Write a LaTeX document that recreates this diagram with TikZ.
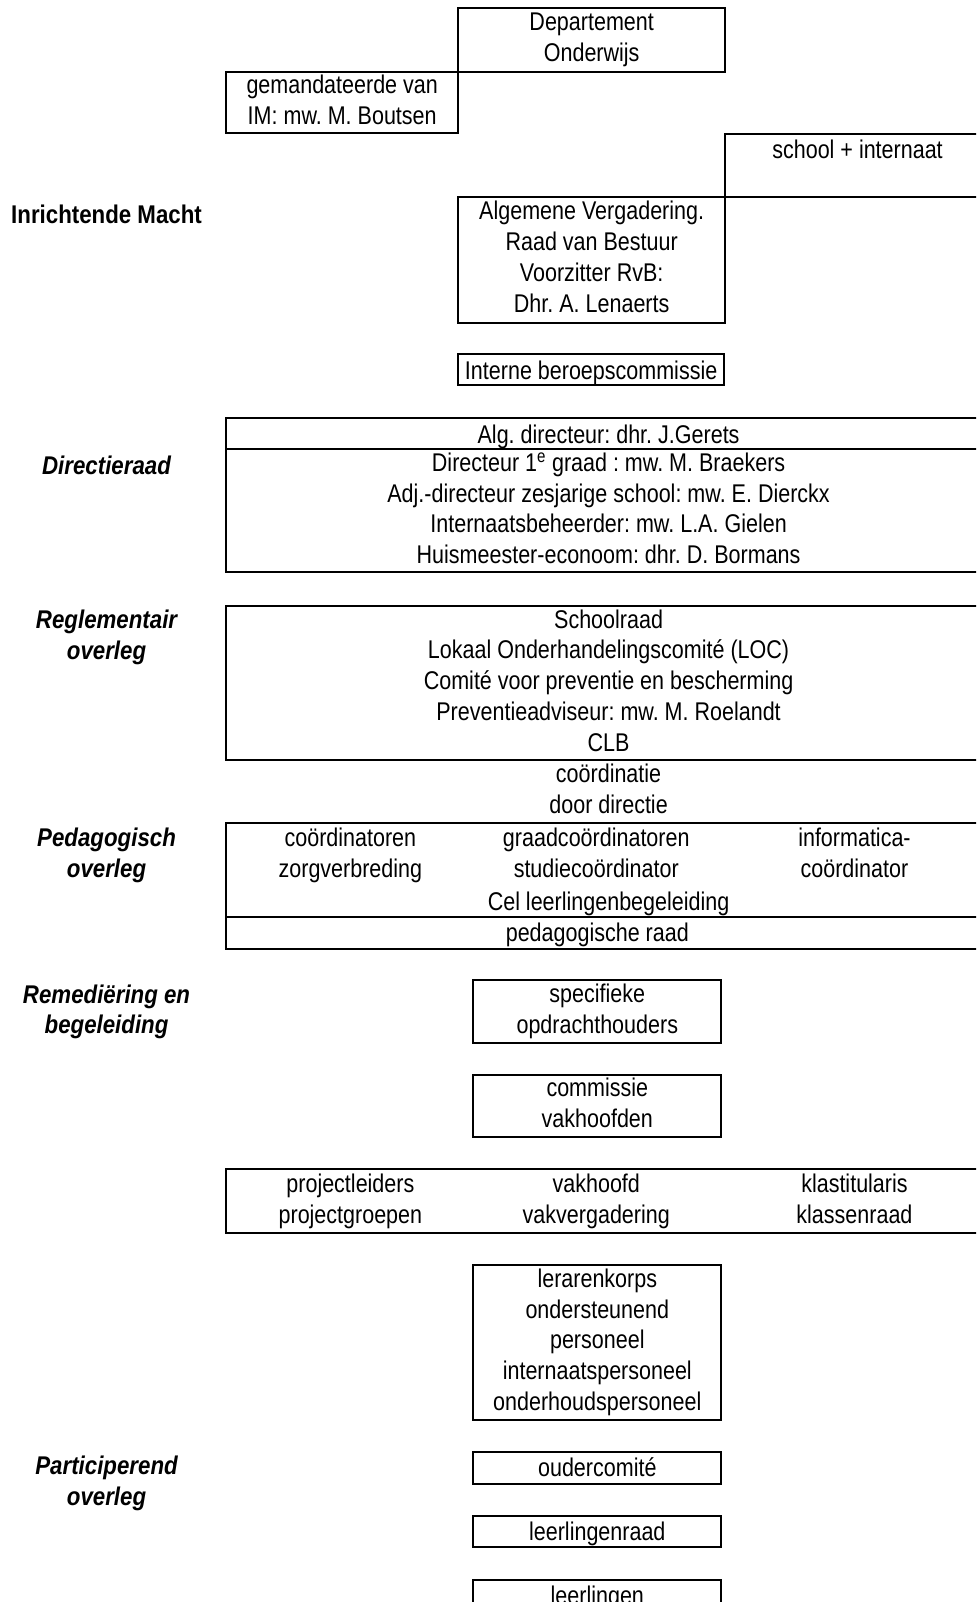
\documentclass[tikz,border=0pt]{standalone}
\usepackage{fontspec}
\setmainfont{Liberation Sans}[UprightFeatures={FakeStretch=0.84}, ItalicFeatures={FakeStretch=0.84},
  BoldFeatures={FakeStretch=0.87}, BoldItalicFeatures={FakeStretch=0.87}]
\frenchspacing
\newcommand{\lineslot}{\rule[-6pt]{0pt}{30pt}}
\begin{document}
\begin{tikzpicture}[x=1pt, y=-1pt, scale=1.0245, line width=2pt,
  every node/.style={font=\fontsize{25}{30}\selectfont, align=center, inner sep=0pt, transform shape,
    execute at begin node=\lineslot, execute at end node=\lineslot},
  box/.style={draw, line width=2pt},
  head/.style={font=\fontsize{25}{30}\selectfont\bfseries},
  level/.style={font=\fontsize{25}{30}\selectfont\bfseries\itshape}]
   \useasboundingbox (0,0) rectangle (952.66,1563.65);
   \clip (0,0) rectangle (952.66,1563.65);

   % Inrichtende Macht
   \node[head] (im) at (104,209) {Inrichtende Macht};
   \node[box, minimum width=261pt, minimum height=62pt] (dept) at (577.5,39) {Departement\\Onderwijs};
   \node[box, minimum width=226pt, minimum height=60pt] (mandaat) at (334,100) {gemandateerde van\\IM: mw. M. Boutsen};
   \draw (708,131) rectangle (990,192);
   \node (school) at (837,146) {school + internaat};
   \node[box, minimum width=261pt, minimum height=123pt] (rvb) at (577.5,253.5) {Algemene Vergadering.\\Raad van Bestuur\\Voorzitter RvB:\\Dhr. A. Lenaerts};
   \node[box, minimum width=260pt, minimum height=30pt] (beroep) at (577,361) {Interne beroepscommissie};

   % Directieraad
   \node[level] (dirlabel) at (104,454) {Directieraad};
   \draw (221,408) rectangle (990,558);
   \draw (221,438) -- (990,438);
   \node (algdir) at (594,424) {Alg. directeur: dhr. J.Gerets};
   \node (dirraad) at (594,499) {Directeur 1\textsuperscript{e} graad : mw. M. Braekers\\Adj.-directeur zesjarige school: mw. E. Dierckx\\Internaatsbeheerder: mw. L.A. Gielen\\Huismeester-econoom: dhr. D. Bormans};

   % Reglementair overleg
   \node[level] (reglabel) at (104,622.5) {Reglementair\\overleg};
   \draw (221,591) rectangle (990,742);
   \node (regl) at (594,667) {Schoolraad\\Lokaal Onderhandelingscomité (LOC)\\Comité voor preventie en bescherming\\Preventieadviseur: mw. M. Roelandt\\CLB};
   \node (coord) at (594,773) {coördinatie\\door directie};

   % Pedagogisch overleg
   \node[level] (pedlabel) at (104,835.5) {Pedagogisch\\overleg};
   \draw (221,803) rectangle (990,926);
   \draw (221,895) -- (990,895);
   \node (zorg) at (342,835) {coördinatoren\\zorgverbreding};
   \node (graad) at (582,835) {graadcoördinatoren\\studiecoördinator};
   \node (cel) at (594,880) {Cel leerlingenbegeleiding};
   \node (info) at (834,835) {informatica-\\coördinator};
   \node (pedraad) at (583,910) {pedagogische raad};

   % Remediering en begeleiding
   \node[level] (remlabel) at (104,988) {Remediëring en\\begeleiding};
   \node[box, minimum width=242pt, minimum height=61pt] (spec) at (583,987.5) {specifieke\\opdrachthouders};
   \node[box, minimum width=242pt, minimum height=61pt] (vakh) at (583,1079.5) {commissie\\vakhoofden};
   \draw (221,1141) rectangle (990,1203);
   \node (proj) at (342,1173) {projectleiders\\projectgroepen};
   \node (vak) at (582,1173) {vakhoofd\\vakvergadering};
   \node (klas) at (834,1173) {klastitularis\\klassenraad};
   \node[box, minimum width=242pt, minimum height=151pt] (korps) at (583,1310.5) {lerarenkorps\\ondersteunend\\personeel\\internaatspersoneel\\onderhoudspersoneel};

   % Participerend overleg
   \node[level] (parlabel) at (104,1448.5) {Participerend\\overleg};
   \node[box, minimum width=242pt, minimum height=31pt] (ouders) at (583,1432.5) {oudercomité};
   \node[box, minimum width=242pt, minimum height=30pt] (llnraad) at (583,1495) {leerlingenraad};
   \draw (462,1542) rectangle (704,1640);
   \node (lln) at (583,1557) {leerlingen};
\end{tikzpicture}
\end{document}
